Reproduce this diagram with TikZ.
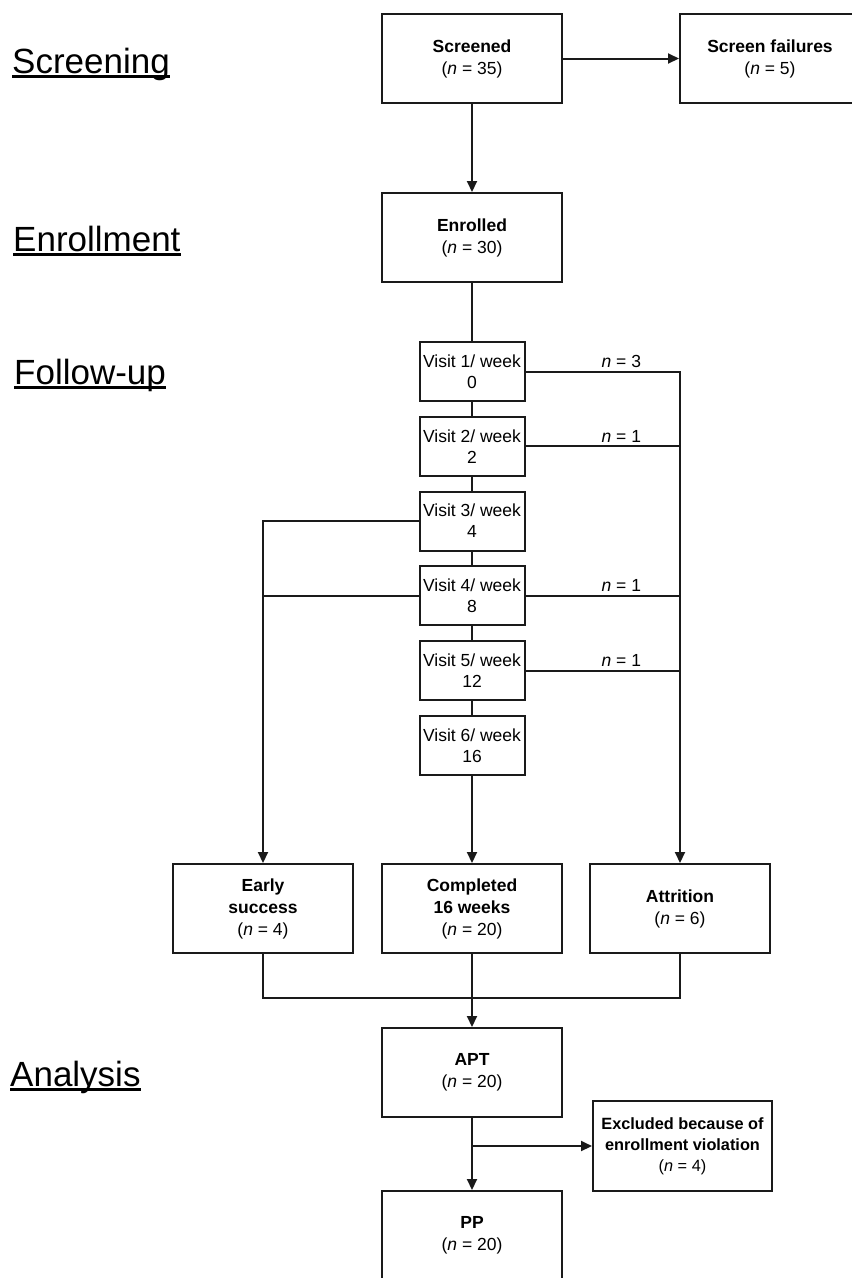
\documentclass[tikz,border=0pt]{standalone}
\usepackage{fontspec}
\setmainfont{Liberation Sans}
\usetikzlibrary{arrows.meta}

\begin{document}
\begin{tikzpicture}[x=1pt,y=-1pt,
    flowBox/.style={draw=borderColour, line width=2pt, minimum width=180pt, minimum height=89pt,
        align=center, inner sep=0pt, font=\fontsize{17.5}{22}\selectfont},
    visitBox/.style={draw=borderColour, line width=2pt, minimum width=105pt, minimum height=59pt,
        align=center, inner sep=0pt, font=\fontsize{17.5}{21}\selectfont},
    stageLabel/.style={anchor=base west, inner sep=0pt, font=\fontsize{35}{40}\selectfont},
    countLabel/.style={above, inner sep=3pt, font=\fontsize{17.5}{20}\selectfont},
    flowLine/.style={draw=borderColour, line width=2pt},
    flowArrow/.style={flowLine, -{Triangle[length=11pt,width=10pt]}}]
    \definecolor{borderColour}{HTML}{1A1A1A}
    \def\nn#1{(\textit{n} = #1)}

    \useasboundingbox (0,0) rectangle (852,1278);

    % Stage labels on the left
    \node[stageLabel] (stScreen) at (12,73) {Screening};
    \node[stageLabel] (stEnrol) at (13,251) {Enrollment};
    \node[stageLabel] (stFollow) at (14,384) {Follow-up};
    \node[stageLabel] (stAnalysis) at (10,1086) {Analysis};
    \foreach \s in {stScreen,stEnrol,stFollow,stAnalysis}
        \draw[line width=2.4pt] ([yshift=-3.5pt]\s.base west) -- ([yshift=-3.5pt]\s.base east);

    % Screening and enrollment
    \node[flowBox] (screened) at (472,58.5) {\textbf{Screened}\\\nn{35}};
    \node[flowBox] (failures) at (770,58.5) {\textbf{Screen failures}\\\nn{5}};
    \node[flowBox] (enrolled) at (472,237.5) {\textbf{Enrolled}\\\nn{30}};
    \draw[flowArrow] (screened.east) -- (failures.west);
    \draw[flowArrow] (screened.south) -- (enrolled.north);

    % Visits
    \foreach \i/\w in {1/0,2/2,3/4,4/8,5/12,6/16}
        \node[visitBox] (v\i) at (472,{371.5+(\i-1)*74.8}) {Visit \i/ week\\\w};
    \draw[flowLine] (enrolled.south) -- (v1.north);
    \foreach \i [evaluate=\i as \j using int(\i+1)] in {1,...,5}
        \draw[flowLine] (v\i.south) -- (v\j.north);

    % Outcomes
    \node[flowBox] (early) at (263,908.5) {\textbf{Early}\\\textbf{success}\\\nn{4}};
    \node[flowBox] (completed) at (472,908.5) {\textbf{Completed}\\\textbf{16 weeks}\\\nn{20}};
    \node[flowBox] (attrition) at (680,908.5) {\textbf{Attrition}\\\nn{6}};
    \draw[flowArrow] (v6.south) -- (completed.north);

    % Attrition branch
    \draw[flowArrow] (v1.east) -- node[countLabel, pos=0.62] (lab1) {\textit{n} = 3} (v1.east -| attrition) -- (attrition.north);
    \draw[flowLine] (v2.east) -- node[countLabel, pos=0.62] (lab2) {\textit{n} = 1} (v2.east -| attrition);
    \draw[flowLine] (v4.east) -- node[countLabel, pos=0.62] (lab4) {\textit{n} = 1} (v4.east -| attrition);
    \draw[flowLine] (v5.east) -- node[countLabel, pos=0.62] (lab5) {\textit{n} = 1} (v5.east -| attrition);

    % Early success branch
    \draw[flowArrow] (v3.west) -- (v3.west -| early) -- (early.north);
    \draw[flowLine] (v4.west) -- (v4.west -| early);

    % Analysis
    \node[flowBox] (apt) at (472,1072.5) {\textbf{APT}\\\nn{20}};
    \node[flowBox, minimum width=179pt, minimum height=90pt, font=\fontsize{16.3}{21}\selectfont]
        (excluded) at (682.5,1146) {\textbf{Excluded because of}\\\textbf{enrollment violation}\\\nn{4}};
    \node[flowBox] (pp) at (472,1235.5) {\textbf{PP}\\\nn{20}};
    \coordinate (merge) at (472,998);
    \draw[flowLine] (early.south) -- (early |- merge) -- (attrition |- merge) -- (attrition.south);
    \draw[flowArrow] (completed.south) -- (apt.north);
    \draw[flowArrow] (apt.south) -- (pp.north);
    \draw[flowArrow] (apt.south |- excluded.west) -- (excluded.west);
\end{tikzpicture}
\end{document}
